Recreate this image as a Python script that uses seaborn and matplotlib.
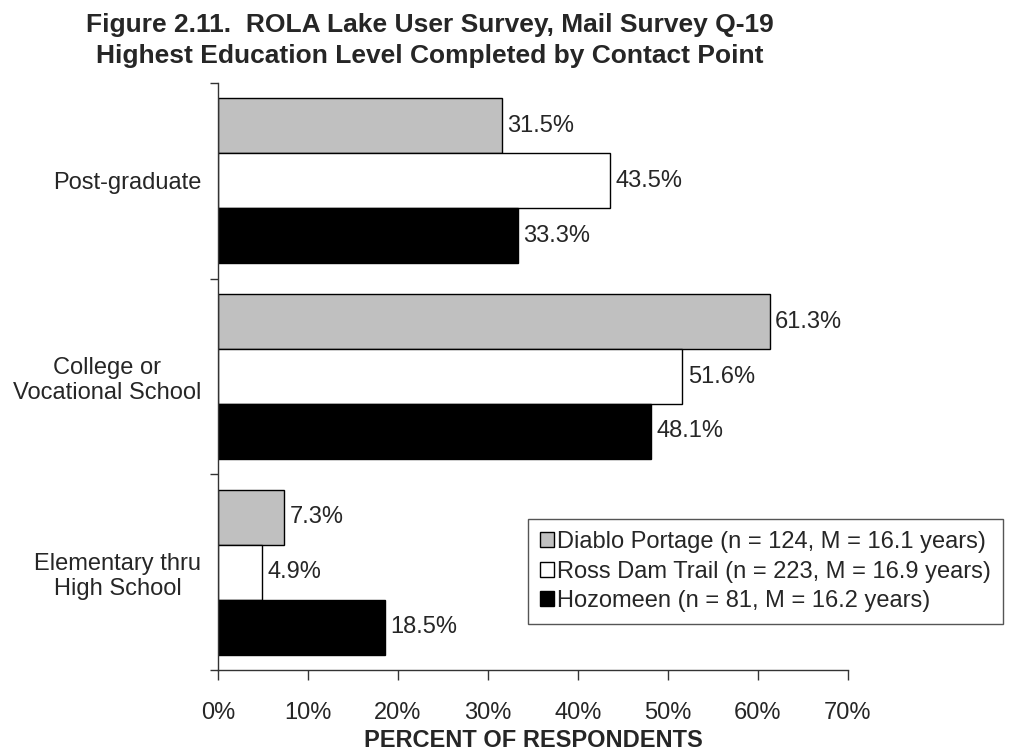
import pandas as pd
import matplotlib.pyplot as plt
import seaborn as sns

# Datos
niveles = ['Post-graduate', 'College or\nVocational School', 'Elementary thru\nHigh School']
grupos = ['Diablo Portage (n = 124, M = 16.1 years)',
          'Ross Dam Trail (n = 223, M = 16.9 years)',
          'Hozomeen (n = 81, M = 16.2 years)']
diablo = [31.5, 61.3, 7.3]
ross = [43.5, 51.6, 4.9]
hozomeen = [33.3, 48.1, 18.5]
colores = ['#c0c0c0', '#ffffff', '#000000']

df = pd.DataFrame({
    'nivel': niveles * 3,
    'grupo': [grupos[0]] * 3 + [grupos[1]] * 3 + [grupos[2]] * 3,
    'pct': diablo + ross + hozomeen,
})

sns.set_style('ticks')
plt.rcParams['font.family'] = ['Liberation Sans', 'DejaVu Sans']

fig = plt.figure(figsize=(10.26, 7.55), dpi=100)
ax = fig.add_axes([0.2125, 0.1126, 0.614, 0.7774])

sns.barplot(data=df, y='nivel', x='pct', hue='grupo', order=niveles, hue_order=grupos,
            palette=colores, orient='h', width=0.843, gap=0, edgecolor='black',
            linewidth=1, saturation=1, ax=ax)

for cont in ax.containers:
    ax.bar_label(cont, fmt='%.1f%%', padding=4, fontsize=17)

ax.set_xlim(0, 70)
ax.set_ylim(2.5, -0.5)
ax.set_xticks(range(0, 71, 10))
ax.set_xticklabels([f'{v}%' for v in range(0, 71, 10)], fontsize=17)
ax.tick_params(axis='x', length=7, width=1, pad=16, color='#333333')
ax.set_yticks([-0.5, 0.5, 1.5, 2.5], minor=True)
ax.tick_params(axis='y', which='major', length=0, labelsize=17, pad=12)
ax.tick_params(axis='y', which='minor', length=6, width=1, color='#333333')
for lab in ax.get_yticklabels():
    lab.set_multialignment('center')
ax.set_ylabel('')
ax.set_xlabel('PERCENT OF RESPONDENTS', fontsize=17, fontweight='bold', labelpad=4)
sns.despine(ax=ax)
for s in ['left', 'bottom']:
    ax.spines[s].set_color('#333333')
    ax.spines[s].set_linewidth(1)

leg = ax.legend(loc='upper left', bbox_to_anchor=(0.492, 0.257), fontsize=17,
                frameon=True, fancybox=False, edgecolor='#555555', framealpha=1,
                handlelength=0.6, handleheight=0.6, handletextpad=0.15,
                labelspacing=0.32, borderpad=0.5, borderaxespad=0)
leg.get_frame().set_linewidth(1)

fig.text(0.419, 0.967, 'Figure 2.11.  ROLA Lake User Survey, Mail Survey Q-19',
         ha='center', va='center', fontsize=19, fontweight='bold')
fig.text(0.419, 0.926, 'Highest Education Level Completed by Contact Point',
         ha='center', va='center', fontsize=19, fontweight='bold')

fig.savefig('out.png', dpi=100)
